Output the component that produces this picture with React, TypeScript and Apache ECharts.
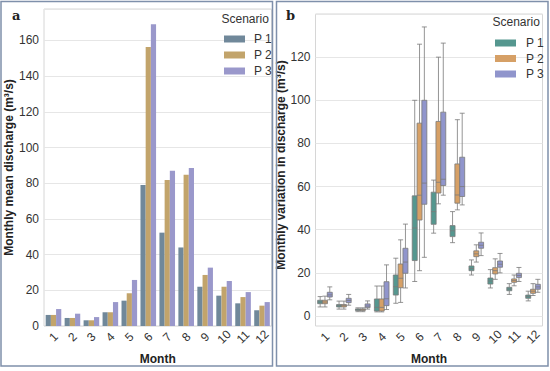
import React, { useEffect, useRef } from "react";
import * as echarts from "echarts";

const months = ["1", "2", "3", "4", "5", "6", "7", "8", "9", "10", "11", "12"];
const scenarios = ["P 1", "P 2", "P 3"];

// Panel a: monthly mean discharge
const meanP1 = [6.2, 4.5, 3.2, 7.7, 14.2, 79, 52.3, 44, 22, 17, 12.7, 8.8];
const meanP2 = [6.2, 4.5, 3.2, 7.7, 18.3, 156.3, 81.8, 84.8, 28.6, 22, 16.2, 11.4];
const meanP3 = [9.5, 6.9, 5.0, 13.4, 25.8, 169, 87, 88.5, 32.7, 25.2, 19, 13.4];

// Panel b: [min, Q1, median, Q3, max]
const boxP1 = [
  [4.2, 5.7, 6.5, 7.3, 9.0],
  [3.2, 4.2, 4.8, 5.3, 6.9],
  [2.0, 2.5, 2.9, 3.3, 3.8],
  [1.9, 2.3, 4.0, 7.9, 13.9],
  [5.9, 9.7, 13.6, 19.0, 26.8],
  [16.0, 25.7, 40.8, 55.7, 100.0],
  [38.4, 42.5, 48.4, 57.4, 63.0],
  [34.0, 36.8, 39.5, 41.9, 48.4],
  [19.0, 21.0, 22.0, 23.2, 26.0],
  [13.0, 14.8, 16.2, 17.6, 21.5],
  [10.0, 11.7, 12.5, 13.3, 15.0],
  [7.0, 8.2, 9.0, 9.7, 11.5],
];
const boxP2 = [
  [4.2, 5.7, 6.5, 7.3, 9.2],
  [3.2, 4.2, 4.8, 5.3, 6.9],
  [2.0, 2.5, 2.9, 3.3, 3.8],
  [1.9, 2.3, 4.0, 7.9, 13.9],
  [6.3, 13.1, 17.5, 24.1, 35.3],
  [21.0, 44.5, 56.0, 89.4, 126.0],
  [52.0, 57.0, 62.0, 90.2, 120.0],
  [49.2, 52.3, 56.1, 70.5, 91.0],
  [25.0, 27.5, 28.8, 30.2, 33.0],
  [17.0, 19.5, 21.0, 22.4, 26.5],
  [14.0, 15.6, 16.4, 17.2, 19.0],
  [9.5, 10.5, 11.5, 12.4, 15.0],
];
const boxP3 = [
  [7.5, 8.8, 9.8, 11.0, 13.5],
  [5.0, 6.2, 7.2, 8.2, 10.0],
  [3.2, 3.9, 4.6, 5.6, 7.0],
  [3.0, 4.8, 8.0, 15.9, 23.7],
  [13.0, 19.8, 25.0, 31.4, 42.6],
  [27.2, 51.8, 61.6, 100.0, 134.0],
  [56.0, 60.5, 63.4, 94.5, 126.5],
  [51.5, 55.4, 60.0, 73.6, 94.0],
  [28.0, 31.4, 32.8, 34.2, 38.5],
  [20.0, 22.6, 24.0, 25.5, 29.0],
  [16.0, 17.8, 18.8, 19.8, 22.5],
  [11.0, 12.4, 13.5, 14.7, 17.0],
];

const colorsA = ["#70889a", "#c2a46b", "#9a98cb"];
const colorsB = ["#55978f", "#d6a066", "#9095cc"];

const FONT = "Liberation Sans, Arial, sans-serif";

export default function App() {
  const ref = useRef<HTMLDivElement>(null);
  useEffect(() => {
    if (!ref.current) return;
    const chart = echarts.init(ref.current, undefined, { renderer: "svg" });
    const fmtUpTo = (top: number) => (v: number) =>
      Math.abs(v % 20) < 1e-6 && v <= top ? String(v) : "";
    const xAxisCommon = {
      type: "category" as const,
      data: months,
      axisTick: { show: false },
      axisLine: { show: false },
      nameLocation: "middle" as const,
      name: "Month",
      nameTextStyle: { fontFamily: FONT, fontSize: 12, fontWeight: "bold", color: "#222" },
    };
    const yAxisCommon = {
      type: "value" as const,
      min: 0,
      interval: 20,
      axisTick: { show: false },
      axisLine: { show: false },
      nameLocation: "middle" as const,
      splitLine: { lineStyle: { color: "#e6e6e6", width: 1 } },
      nameTextStyle: { fontFamily: FONT, fontSize: 12, fontWeight: "bold", color: "#222" },
    };
    const yLabel = { fontFamily: FONT, fontSize: 12, color: "#333", margin: 5 };
    const bars = [meanP1, meanP2, meanP3];
    const boxes = [boxP1, boxP2, boxP3];
    const option: any = {
      animation: false,
      backgroundColor: "#fff",
      grid: [
        { left: 44, top: 9, right: 278.5, bottom: 45, show: true, borderColor: "#d6d6d6", borderWidth: 1, backgroundColor: "transparent" },
        { left: 315.5, top: 14, right: 7.5, bottom: 55, show: false },
      ],
      xAxis: [
        {
          ...xAxisCommon,
          gridIndex: 0,
          nameGap: 22,
          axisLabel: { fontFamily: FONT, fontSize: 12, color: "#333", rotate: 45, align: "center", verticalAlign: "middle", margin: 11, interval: 0 },
        },
        {
          ...xAxisCommon,
          gridIndex: 1,
          nameGap: 32,
          axisLabel: { fontFamily: FONT, fontSize: 12, color: "#333", rotate: 45, align: "center", verticalAlign: "middle", margin: 21, interval: 0 },
        },
      ],
      yAxis: [
        { ...yAxisCommon, gridIndex: 0, max: 177.6, name: "Monthly mean discharge (m³/s)", nameGap: 24, axisLabel: { ...yLabel, formatter: fmtUpTo(160) } },
        { ...yAxisCommon, gridIndex: 1, max: 140, name: "Monthly variation in discharge (m³/s)", nameGap: 24, axisLabel: { ...yLabel, formatter: fmtUpTo(120) } },
      ],
      legend: [
        {
          orient: "vertical",
          left: 219,
          top: 27,
          itemWidth: 21,
          itemHeight: 7,
          itemGap: 2,
          icon: "rect",
          selectedMode: false,
          textStyle: { fontFamily: FONT, fontSize: 12, color: "#333", lineHeight: 14, padding: [0, 0, 0, 4] },
          data: scenarios.map((n, i) => ({ name: n, itemStyle: { color: colorsA[i] } })),
        },
        {
          orient: "vertical",
          left: 490,
          top: 31,
          itemWidth: 21,
          itemHeight: 7,
          itemGap: 1.5,
          icon: "rect",
          selectedMode: false,
          textStyle: { fontFamily: FONT, fontSize: 12, color: "#333", lineHeight: 14, padding: [0, 0, 0, 5] },
          data: scenarios.map((n, i) => ({ name: n, itemStyle: { color: colorsB[i] } })),
        },
      ],
      series: [
        ...bars.map((d, i) => ({
          type: "bar",
          name: scenarios[i],
          xAxisIndex: 0,
          yAxisIndex: 0,
          data: d,
          barWidth: 5.2,
          barGap: "0%",
          itemStyle: { color: colorsA[i] },
        })),
        ...boxes.map((d, i) => ({
          type: "boxplot",
          name: scenarios[i],
          xAxisIndex: 1,
          yAxisIndex: 1,
          data: d,
          boxWidth: [5, 5],
          itemStyle: { color: colorsB[i], borderColor: "#7a7a7a", borderWidth: 0.8 },
        })),
      ],
      graphic: [
        { type: "rect", shape: { x: 1, y: 1.5, width: 271.5, height: 364.5 }, style: { fill: "none", stroke: "#7f90ab", lineWidth: 1.5 }, z: 100 },
        { type: "rect", shape: { x: 276.5, y: 1.5, width: 271.5, height: 364.5 }, style: { fill: "none", stroke: "#7f90ab", lineWidth: 1.5 }, z: 100 },
        { type: "rect", shape: { x: 315.5, y: 14, width: 227, height: 312 }, style: { fill: "none", stroke: "#d6d6d6", lineWidth: 1 }, z: 0 },
        { type: "text", x: 12, y: 9, style: { text: "a", font: "bold 13px 'DejaVu Serif', serif", fill: "#222" } },
        { type: "text", x: 286, y: 9, style: { text: "b", font: "bold 13px 'DejaVu Serif', serif", fill: "#222" } },
        { type: "text", x: 221.5, y: 12.5, style: { text: "Scenario", font: `12px ${FONT}`, fill: "#333" } },
        { type: "text", x: 492.5, y: 15.5, style: { text: "Scenario", font: `12px ${FONT}`, fill: "#333" } },
      ],
    };
    chart.setOption(option);
    return () => chart.dispose();
  }, []);
  return <div ref={ref} style={{ position: "absolute", left: 0, top: 0, width: 550, height: 371 }} />;
}
